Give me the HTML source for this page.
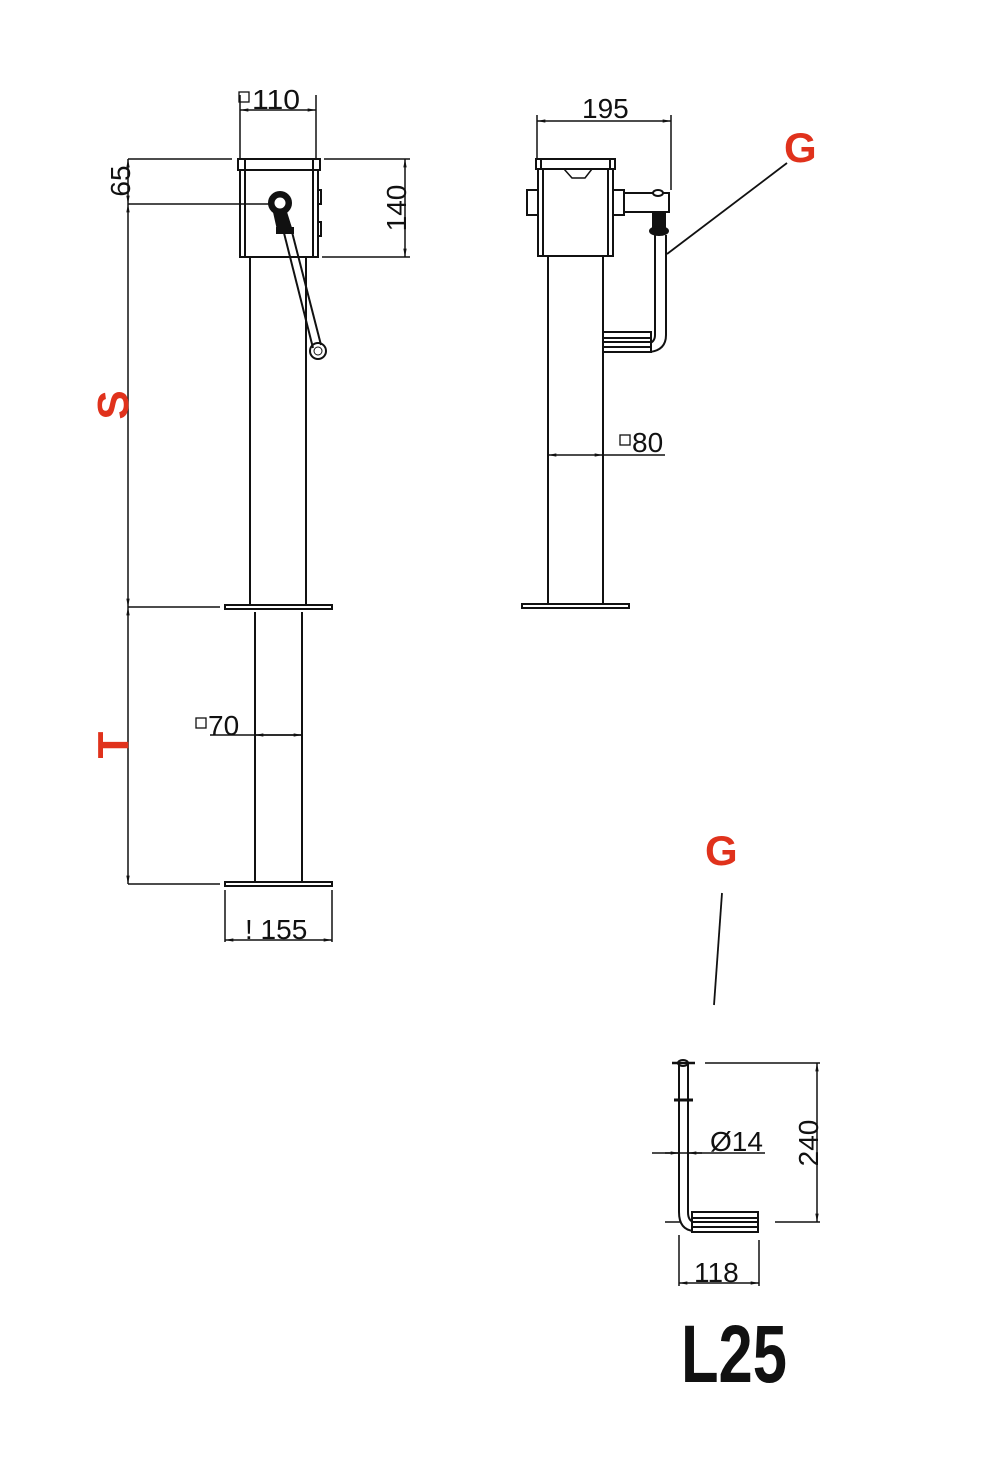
<!DOCTYPE html>
<html><head><meta charset="utf-8"><style>
html,body{margin:0;padding:0;background:#fff}
svg{display:block}
text{font-family:"Liberation Sans",sans-serif;fill:#111}
.r{fill:#e0321c;font-family:"Liberation Sans",sans-serif;font-weight:bold}
</style></head><body>
<svg width="1000" height="1461" viewBox="0 0 1000 1461" xmlns="http://www.w3.org/2000/svg">
<defs>
<marker id="a" viewBox="0 0 10 6" refX="10" refY="3" markerWidth="10" markerHeight="5" orient="auto-start-reverse" markerUnits="userSpaceOnUse"><path d="M0,1 L10,3 L0,5z" fill="#111"/></marker>
</defs>
<g stroke="#111" stroke-width="2" fill="none">
<rect x="238" y="159" width="82" height="11" fill="#fff"/>
<line x1="245" y1="159" x2="245" y2="170"/><line x1="313" y1="159" x2="313" y2="170"/>
<rect x="240" y="170" width="78" height="87"/>
<line x1="245" y1="170" x2="245" y2="257"/><line x1="313" y1="170" x2="313" y2="257"/>
<rect x="318" y="190" width="3" height="14"/><rect x="318" y="222" width="3" height="14"/>
<line x1="250" y1="257" x2="250" y2="605"/><line x1="306" y1="257" x2="306" y2="605"/>
<rect x="225" y="605" width="107" height="4"/>
<line x1="255" y1="612" x2="255" y2="882"/><line x1="302" y1="612" x2="302" y2="882"/>
<rect x="225" y="882" width="107" height="4"/>
<circle cx="280" cy="203" r="11" fill="#111"/>
<circle cx="280" cy="203" r="6" fill="#fff" stroke-width="1"/>
<path d="M274,212 L286,212 L291,228 L278,230z" fill="#111"/>
<rect x="277" y="228" width="16" height="5" fill="#111"/>
<line x1="284" y1="233" x2="313" y2="348"/><line x1="292" y1="232" x2="321" y2="345"/>
<circle cx="318" cy="351" r="8"/>
<circle cx="318" cy="351" r="4" stroke-width="1"/>
<g stroke-width="1.5">
<line x1="240" y1="95" x2="240" y2="159"/><line x1="316" y1="95" x2="316" y2="159"/>
<line x1="240" y1="110" x2="316" y2="110" marker-start="url(#a)" marker-end="url(#a)"/>
<line x1="128" y1="159" x2="232" y2="159"/>
<line x1="128" y1="204" x2="272" y2="204"/>
<line x1="128" y1="159" x2="128" y2="204" marker-start="url(#a)" marker-end="url(#a)"/>
<line x1="128" y1="204" x2="128" y2="607" marker-start="url(#a)" marker-end="url(#a)"/>
<line x1="128" y1="607" x2="128" y2="884" marker-start="url(#a)" marker-end="url(#a)"/>
<line x1="128" y1="607" x2="220" y2="607"/>
<line x1="128" y1="884" x2="220" y2="884"/>
<line x1="324" y1="159" x2="410" y2="159"/>
<line x1="322" y1="257" x2="410" y2="257"/>
<line x1="405" y1="159" x2="405" y2="257" marker-start="url(#a)" marker-end="url(#a)"/>
<line x1="210" y1="735" x2="302" y2="735"/>
<line x1="255" y1="735" x2="302" y2="735" marker-start="url(#a)" marker-end="url(#a)"/>
<line x1="225" y1="890" x2="225" y2="942"/><line x1="332" y1="890" x2="332" y2="942"/>
<line x1="225" y1="940" x2="332" y2="940" marker-start="url(#a)" marker-end="url(#a)"/>
</g>
<rect x="536" y="159" width="79" height="10"/>
<line x1="541" y1="159" x2="541" y2="169"/><line x1="610" y1="159" x2="610" y2="169"/>
<rect x="538" y="169" width="75" height="87"/>
<line x1="543" y1="169" x2="543" y2="256"/><line x1="608" y1="169" x2="608" y2="256"/>
<path d="M564,169 L572,178 L585,178 L592,169" stroke-width="1.5"/>
<rect x="527" y="190" width="11" height="25"/><rect x="613" y="190" width="11" height="25"/>
<rect x="624" y="193" width="45" height="19"/>
<ellipse cx="658" cy="193" rx="5" ry="3" fill="#fff"/>
<rect x="653" y="212" width="12" height="16" fill="#111"/>
<ellipse cx="659" cy="231" rx="9" ry="4" fill="#111"/>
<line x1="655" y1="235" x2="655" y2="335"/><line x1="666" y1="235" x2="666" y2="335"/>
<path d="M655,335 Q655,342 648,344 M666,335 Q666,350 650,352"/>
<rect x="603" y="332" width="48" height="20" fill="#fff"/>
<line x1="603" y1="338" x2="651" y2="338"/><line x1="603" y1="342" x2="651" y2="342"/><line x1="603" y1="347" x2="651" y2="347"/>
<line x1="548" y1="256" x2="548" y2="604"/><line x1="603" y1="256" x2="603" y2="332"/><line x1="603" y1="352" x2="603" y2="604"/>
<rect x="522" y="604" width="107" height="4"/>
<g stroke-width="1.5">
<line x1="537" y1="115" x2="537" y2="159"/><line x1="671" y1="115" x2="671" y2="190"/>
<line x1="537" y1="121" x2="671" y2="121" marker-start="url(#a)" marker-end="url(#a)"/>
<line x1="548" y1="455" x2="603" y2="455" marker-start="url(#a)" marker-end="url(#a)"/>
<line x1="603" y1="455" x2="665" y2="455"/>
<line x1="787" y1="163" x2="667" y2="254" stroke-width="1.8"/>
<line x1="722" y1="893" x2="714" y2="1005" stroke-width="1.8"/>
</g>
<line x1="679" y1="1062" x2="679" y2="1212"/><line x1="688" y1="1062" x2="688" y2="1212"/>
<path d="M679,1212 Q679,1230 694,1231 M688,1212 Q688,1221 694,1222"/>
<line x1="672" y1="1063" x2="695" y2="1063" stroke-width="2.5"/>
<ellipse cx="683" cy="1063" rx="5" ry="3"/>
<line x1="674" y1="1100" x2="693" y2="1100" stroke-width="3"/>
<rect x="692" y="1212" width="66" height="20" fill="#fff"/>
<line x1="692" y1="1218" x2="758" y2="1218"/><line x1="692" y1="1222" x2="758" y2="1222"/><line x1="692" y1="1227" x2="758" y2="1227"/>
<g stroke-width="1.5">
<line x1="705" y1="1063" x2="820" y2="1063"/>
<line x1="665" y1="1222" x2="680" y2="1222"/>
<line x1="775" y1="1222" x2="820" y2="1222"/>
<line x1="817" y1="1063" x2="817" y2="1222" marker-start="url(#a)" marker-end="url(#a)"/>
<line x1="652" y1="1153" x2="765" y2="1153"/>
<line x1="665" y1="1153" x2="679" y2="1153" marker-end="url(#a)"/>
<line x1="702" y1="1153" x2="688" y2="1153" marker-end="url(#a)"/>
<line x1="679" y1="1235" x2="679" y2="1286"/><line x1="759" y1="1240" x2="759" y2="1286"/>
<line x1="679" y1="1283" x2="759" y2="1283" marker-start="url(#a)" marker-end="url(#a)"/>
</g>
</g>
<g font-size="28">
<rect x="239" y="92" width="10" height="10" fill="none" stroke="#111" stroke-width="1.3"/>
<text x="252" y="109" textLength="48" lengthAdjust="spacingAndGlyphs">110</text>
<text transform="translate(130,181) rotate(-90)" text-anchor="middle">65</text>
<text transform="translate(406,208) rotate(-90)" text-anchor="middle">140</text>
<rect x="196" y="718" width="10" height="10" fill="none" stroke="#111" stroke-width="1.3"/>
<text x="208" y="735">70</text>
<text x="245" y="939">! 155</text>
<text x="582" y="118">195</text>
<rect x="620" y="435" width="10" height="10" fill="none" stroke="#111" stroke-width="1.3"/>
<text x="632" y="452">80</text>
<text x="710" y="1151">Ø14</text>
<text transform="translate(818,1143) rotate(-90)" text-anchor="middle">240</text>
<text x="694" y="1282">118</text>
</g>
<text class="r" font-size="44" transform="translate(128,405) rotate(-90)" text-anchor="middle">S</text>
<text class="r" font-size="44" transform="translate(128,745) rotate(-90)" text-anchor="middle">T</text>
<text class="r" font-size="42" x="784" y="162">G</text>
<text class="r" font-size="42" x="705" y="865">G</text>
<text x="0" y="0" font-family="Liberation Sans,sans-serif" font-weight="bold" font-size="82" transform="translate(681,1382) scale(0.75,1)" style="fill:#111">L25</text>
</svg>
</body></html>
